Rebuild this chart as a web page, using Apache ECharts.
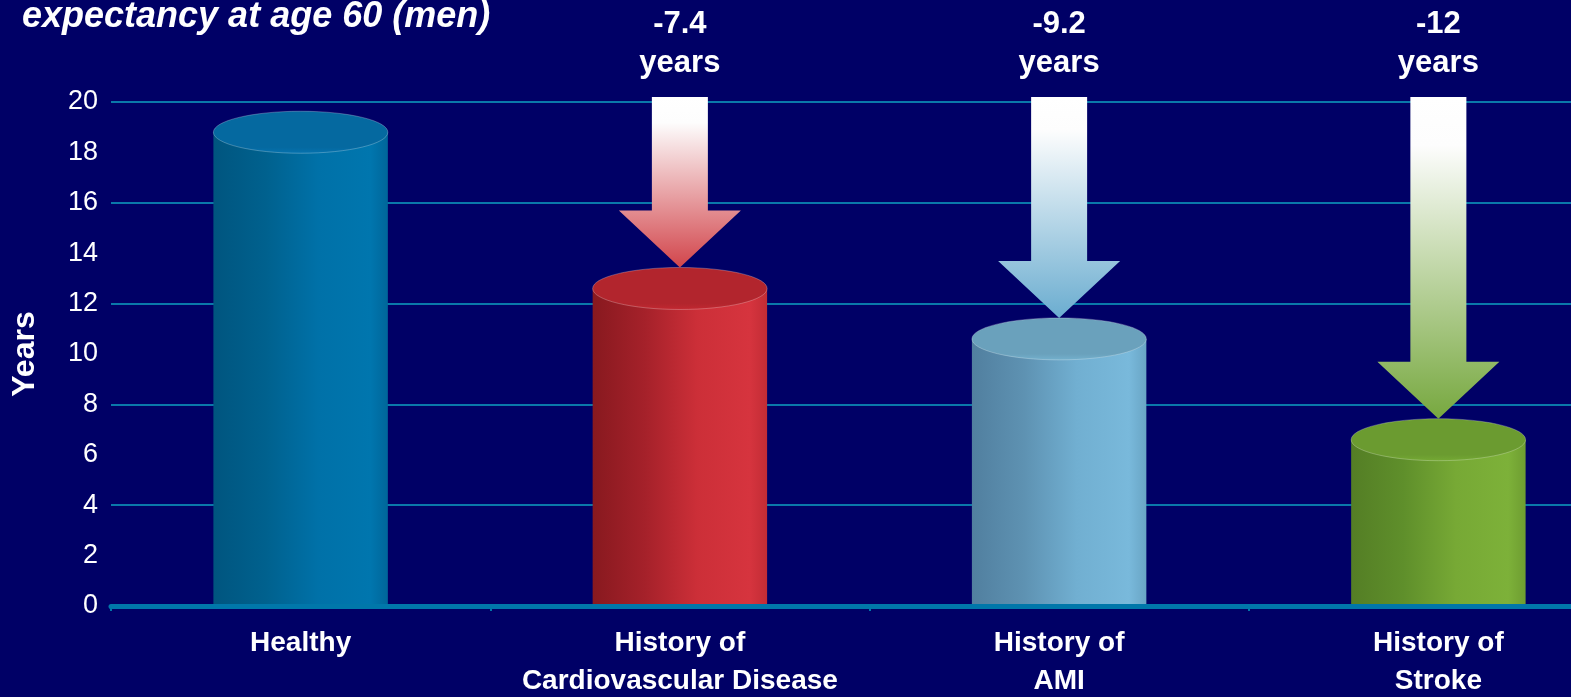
<!DOCTYPE html>
<html>
<head>
<meta charset="utf-8">
<script src="https://cdn.jsdelivr.net/npm/echarts@6/dist/echarts.min.js"></script>
<style>
  html, body { margin: 0; padding: 0; background: #000066; }
  #chart { width: 1571px; height: 697px; }
</style>
</head>
<body>
<div id="chart"></div>
<script>
// Life expectancy at age 60 for men, by cardiovascular history
const categories = ['Healthy', 'History of\nCardiovascular Disease', 'History of\nAMI', 'History of\nStroke'];
const years = [18.8, 12.6, 10.6, 6.6];
// Years lost versus the healthy group (shown above the arrows)
const yearsLost = [null, -7.4, -9.2, -12];
const loseUnit = 'years';

const FONT = '"Liberation Sans", Arial, sans-serif';
const ARROW_START = 20.2;      // value level where each arrow's shaft begins
const TOP_RY = 21;             // half-height of the cylinder's top ellipse (px)

// Cylinder shading: [side gradient stops], top face colour
const cylinderStyles = [
  { side: ['#00557f', '#00618e', '#0071a8', '#0076ae', '#00669a'], top: '#0569a0' },
  { side: ['#88191f', '#a5212a', '#cc2f38', '#d6343e', '#c22c35'], top: '#b2252d' },
  { side: ['#517f9f', '#5e92b2', '#71afd1', '#79b9db', '#69a5c5'], top: '#6aa1bc' },
  { side: ['#547e25', '#5f8f2b', '#77a935', '#7db139', '#6e9d31'], top: '#6b9b30' }
];
const arrowColors = [null, '#d2454b', '#6badd0', '#77a83f'];

const chart = echarts.init(document.getElementById('chart'), null, { renderer: 'canvas' });

function renderCylinder(params, api) {
  const idx = api.value(0);
  const v = api.value(1);
  const top = api.coord([idx, v]);
  const base = api.coord([idx, 0]);
  const w = api.size([1, 0])[0] * 0.46;
  const half = w / 2;
  const st = cylinderStyles[idx];
  const s = st.side;
  return {
    type: 'group',
    children: [
      {
        type: 'rect',
        shape: { x: top[0] - half, y: top[1], width: w, height: base[1] - top[1] },
        style: {
          fill: new echarts.graphic.LinearGradient(0, 0, 1, 0, [
            { offset: 0, color: s[0] },
            { offset: 0.3, color: s[1] },
            { offset: 0.6, color: s[2] },
            { offset: 0.9, color: s[3] },
            { offset: 1, color: s[4] }
          ])
        }
      },
      {
        type: 'ellipse',
        shape: { cx: top[0], cy: top[1], rx: half, ry: TOP_RY },
        style: {
          fill: new echarts.graphic.LinearGradient(0, 0, 0, 1, [
            { offset: 0, color: st.top },
            { offset: 0.85, color: st.top },
            { offset: 1, color: echarts.color.lift(st.top, -0.1) }
          ]),
          stroke: 'rgba(255,255,255,0.25)',
          lineWidth: 1
        }
      }
    ]
  };
}

function renderArrow(params, api) {
  const idx = api.value(0);
  const v = api.value(1);
  const lost = api.value(2);
  if (lost === null || isNaN(lost)) return null;
  const x = api.coord([idx, v])[0];
  const tipY = api.coord([idx, v])[1] - TOP_RY;
  const startY = api.coord([idx, ARROW_START])[1];
  const headH = 57, headHalf = 61, shaftHalf = 28;
  const neck = tipY - headH;
  return {
    type: 'group',
    children: [
      {
        type: 'polygon',
        shape: {
          points: [
            [x - shaftHalf, startY], [x + shaftHalf, startY], [x + shaftHalf, neck],
            [x + headHalf, neck], [x, tipY], [x - headHalf, neck], [x - shaftHalf, neck]
          ]
        },
        style: {
          fill: new echarts.graphic.LinearGradient(0, 0, 0, 1, [
            { offset: 0, color: '#ffffff' },
            { offset: 0.15, color: '#fdfdfd' },
            { offset: 1, color: arrowColors[idx] }
          ])
        }
      },
      {
        type: 'text',
        x: x,
        y: startY - 14,
        style: {
          text: lost + '\n' + loseUnit,
          fill: '#ffffff',
          font: 'bold 31px ' + FONT,
          lineHeight: 39,
          align: 'center',
          verticalAlign: 'bottom'
        }
      }
    ]
  };
}

chart.setOption({
  backgroundColor: '#000066',
  animation: false,
  title: {
    text: 'expectancy at age 60 (men)',
    left: 22,
    top: -1,
    padding: 0,
    textStyle: { color: '#ffffff', fontSize: 36, fontStyle: 'italic', fontWeight: 'bold', fontFamily: FONT }
  },
  grid: { left: 111, top: 102, width: 1517, height: 504, outerBoundsMode: 'none', containLabel: false },
  xAxis: {
    type: 'category',
    data: categories,
    z: 5,
    axisLine: { lineStyle: { color: '#0077aa', width: 5 } },
    axisTick: { show: true, length: 5, lineStyle: { color: '#0077aa', width: 2 } },
    axisLabel: { interval: 0, color: '#ffffff', fontSize: 28, fontWeight: 'bold', fontFamily: FONT, lineHeight: 38, margin: 18 },
    splitLine: { show: false }
  },
  yAxis: [
    {
      type: 'value', min: 0, max: 20, interval: 2,
      name: 'Years', nameLocation: 'middle', nameRotate: 90, nameGap: 70,
      nameTextStyle: { color: '#ffffff', fontSize: 32, fontWeight: 'bold', fontFamily: FONT },
      axisLine: { show: false }, axisTick: { show: false },
      axisLabel: { color: '#ffffff', fontSize: 27, fontFamily: FONT, margin: 13 },
      splitLine: { show: false }
    },
    {
      type: 'value', min: 0, max: 20, interval: 4, position: 'left',
      axisLine: { show: false }, axisTick: { show: false }, axisLabel: { show: false },
      splitLine: { lineStyle: { color: '#0a78aa', width: 2 } }
    }
  ],
  series: [
    {
      type: 'custom',
      name: 'Life expectancy',
      renderItem: renderCylinder,
      data: years.map((v, i) => [i, v]),
      encode: { x: 0, y: 1 },
      z: 2
    },
    {
      type: 'custom',
      name: 'Years lost',
      renderItem: renderArrow,
      data: years.map((v, i) => [i, v, yearsLost[i]]),
      encode: { x: 0, y: 1 },
      z: 3
    }
  ]
});
</script>
</body>
</html>
